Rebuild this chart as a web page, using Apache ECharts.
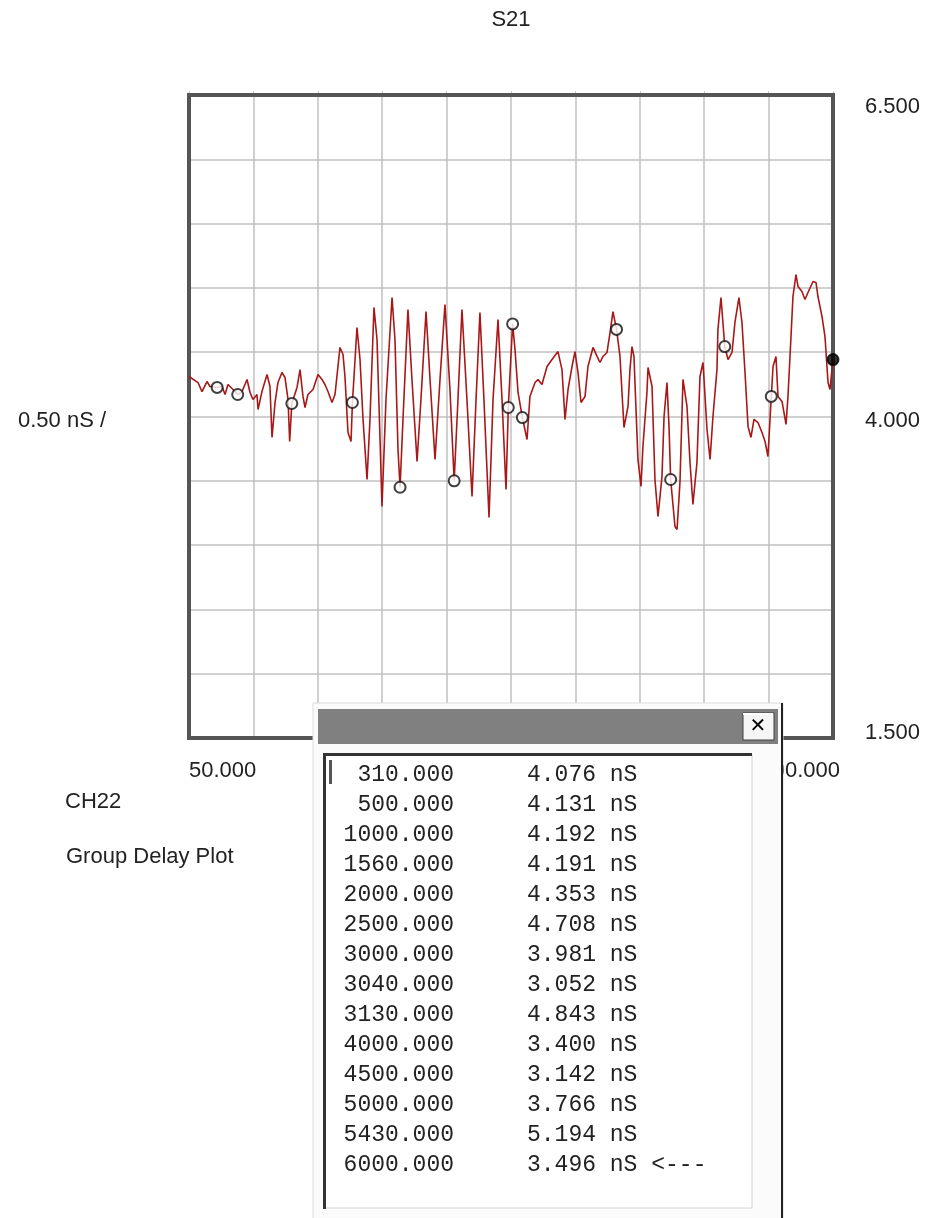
<!DOCTYPE html>
<html>
<head>
<meta charset="utf-8">
<script src="https://cdn.jsdelivr.net/npm/echarts@6/dist/echarts.min.js"></script>
<style>
  html, body { margin: 0; padding: 0; background: #fff; }
  #main { width: 926px; height: 1218px; }
</style>
</head>
<body>
<div id="main"></div>
<script>
// trace (MHz / nS)
var freqMHz = [50,133,170,216,244,310,355,383,410,457,500,540,586,614,641,678,688,724,771,798,817,845,872,909,937,965,980,1000,1048,1076,1103,1122,1149,1196,1242,1279,1306,1334,1371,1399,1445,1473,1491,1519,1547,1560,1602,1630,1658,1695,1722,1759,1787,1815,1833,1870,1926,1953,1981,2000,2027,2073,2110,2157,2193,2240,2277,2323,2369,2415,2461,2500,2535,2572,2618,2665,2702,2738,2775,2822,2859,2905,2942,2979,3000,3040,3062,3090,3130,3173,3200,3247,3274,3311,3358,3404,3459,3496,3524,3552,3589,3616,3644,3672,3709,3736,3783,3820,3847,3875,3912,3940,3967,4000,4032,4050,4069,4106,4124,4143,4161,4198,4226,4244,4281,4291,4328,4355,4383,4420,4439,4466,4485,4500,4540,4559,4586,4614,4651,4679,4706,4743,4771,4799,4836,4864,4891,4928,4937,4965,5000,5030,5067,5094,5131,5159,5187,5215,5242,5270,5307,5344,5372,5399,5430,5446,5473,5492,5529,5566,5584,5612,5630,5658,5677,5713,5741,5769,5815,5843,5861,5898,5926,5954,5972,6000];
var delayNs = [4.311,4.264,4.194,4.272,4.233,4.226,4.233,4.171,4.249,4.210,4.171,4.194,4.288,4.187,4.132,4.171,4.054,4.194,4.327,4.233,3.837,4.109,4.264,4.342,4.303,4.132,3.806,4.101,4.226,4.365,4.156,4.070,4.171,4.210,4.327,4.288,4.249,4.194,4.109,4.171,4.537,4.482,4.311,3.876,3.806,4.109,4.692,4.443,3.977,3.510,3.977,4.848,4.599,3.821,3.300,4.132,4.925,4.599,3.743,3.450,3.977,4.832,4.288,3.650,4.132,4.816,4.288,3.666,4.288,4.871,4.210,3.500,4.132,4.832,4.132,3.378,4.132,4.809,4.132,3.215,4.132,4.754,4.132,3.432,4.070,4.720,4.521,4.187,3.992,3.821,4.156,4.264,4.288,4.249,4.389,4.443,4.505,4.365,3.977,4.210,4.389,4.505,4.342,4.109,4.156,4.389,4.537,4.467,4.420,4.467,4.498,4.653,4.816,4.677,4.467,4.194,3.914,4.078,4.365,4.544,4.467,3.666,3.456,3.767,4.187,4.381,4.233,3.510,3.222,3.533,4.000,4.264,3.922,3.510,3.145,3.121,3.487,4.288,4.078,3.642,3.316,3.642,4.311,4.420,3.899,3.666,4.000,4.365,4.677,4.925,4.544,4.443,4.498,4.731,4.925,4.731,4.342,3.922,3.837,3.977,3.953,3.876,3.806,3.689,4.156,4.389,4.467,4.156,4.117,3.938,4.156,4.622,4.933,5.104,5.011,4.972,4.910,4.964,5.050,5.042,4.933,4.778,4.622,4.264,4.210,4.443];

// markers: frequency from the list, height from the plot
var markerFreq = [310,500,1000,1560,2000,2500,3000,3040,3130,4000,4500,5000,5430,6000];
var markerDelay = [4.226,4.171,4.101,4.109,3.450,3.500,4.070,4.720,3.992,4.677,3.510,4.544,4.156,4.443];
// readings printed in the marker window
var markerReading = [4.076,4.131,4.192,4.191,4.353,4.708,3.981,3.052,4.843,3.400,3.142,3.766,5.194,3.496];

var yLabels = { '6.5': '{t|6.500}', '4': '{m|4.000}', '1.5': '{b|1.500}' };

var Chart = echarts.init(document.getElementById('main'));

var traceData = [];
for (var i = 0; i < freqMHz.length; i++) {
  traceData.push([freqMHz[i], delayNs[i]]);
}
var markerData = [];
for (var k = 0; k < markerFreq.length; k++) {
  var last = k == markerFreq.length - 1;
  markerData.push({
    value: [markerFreq[k], markerDelay[k]],
    itemStyle: last ? { color: '#000', borderColor: '#000' } : undefined
  });
}

var labelFont = '22px Arial, "Liberation Sans", sans-serif';
var monoFont = '23px "Courier New", "Liberation Mono", monospace';

// marker window, drawn on top of everything
var win = [
  { type: 'rect', shape: { x: 313, y: 703, width: 470, height: 530 }, style: { fill: '#fbfbfb', stroke: '#dcdcdc', lineWidth: 1 } },
  { type: 'rect', shape: { x: 781, y: 703, width: 2, height: 530 }, style: { fill: '#222' } },
  { type: 'rect', shape: { x: 318, y: 709, width: 460, height: 35 }, style: { fill: '#808080' } },
  { type: 'rect', shape: { x: 743, y: 713, width: 31, height: 27 }, style: { fill: '#f6f6f6', stroke: '#404040', lineWidth: 1 } },
  { type: 'rect', shape: { x: 743, y: 713, width: 30, height: 2 }, style: { fill: '#ffffff' } },
  { type: 'text', style: { text: '✕', x: 758, y: 727, font: 'bold 20px "DejaVu Sans", Arial, sans-serif', fill: '#000', align: 'center', verticalAlign: 'middle', textAlign: 'center', textVerticalAlign: 'middle' } },
  { type: 'rect', shape: { x: 325, y: 754, width: 427, height: 454 }, style: { fill: '#fff', stroke: '#d4d4d4', lineWidth: 1 } },
  { type: 'rect', shape: { x: 323, y: 753, width: 429, height: 3 }, style: { fill: '#333' } },
  { type: 'rect', shape: { x: 323, y: 753, width: 3, height: 456 }, style: { fill: '#333' } },
  { type: 'rect', shape: { x: 329, y: 760, width: 3, height: 24 }, style: { fill: '#555' } }
];
for (var r = 0; r < markerFreq.length; r++) {
  var ry = 775 + r * 30;
  win.push({ type: 'text', style: { text: markerFreq[r].toFixed(3), x: 454, y: ry, font: monoFont, fill: '#222', align: 'right', verticalAlign: 'middle', textAlign: 'right', textVerticalAlign: 'middle' } });
  win.push({ type: 'text', style: { text: markerReading[r].toFixed(3) + ' nS' + (r == markerFreq.length - 1 ? ' <---' : ''), x: 527, y: ry, font: monoFont, fill: '#222', align: 'left', verticalAlign: 'middle', textAlign: 'left', textVerticalAlign: 'middle' } });
}
win.forEach(function (el) { el.z = 100; });

function txt(s, x, y, align) {
  return { type: 'text', style: { text: s, x: x, y: y, font: labelFont, fill: '#222', align: align, verticalAlign: 'middle', textAlign: align, textVerticalAlign: 'middle' } };
}

var option = {
  backgroundColor: '#fff',
  animation: false,
  grid: {
    left: 189, top: 95, width: 644, height: 643
  },
  xAxis: [
    {
      type: 'value', min: 50, max: 6000,
      axisLine: { show: false }, axisTick: { show: false }, splitLine: { show: false },
      axisLabel: {
        margin: 22, color: '#222', fontSize: 22, fontFamily: 'Arial, "Liberation Sans", sans-serif',
        showMinLabel: true, showMaxLabel: true,
        alignMinLabel: 'left', alignMaxLabel: 'right',
        formatter: function (v) {
          if (v == 50) return '50.000';
          if (v == 6000) return '{r|6000.000}';
          return '';
        },
        rich: { r: { fontSize: 22, padding: [0, -7, 0, 0] } }
      }
    },
    {
      // divisions only
      type: 'value', min: 0, max: 10, interval: 1, position: 'top',
      axisLine: { show: false },
      axisTick: { show: true, inside: false, length: 4, lineStyle: { color: '#c8c8c8', width: 1 } },
      axisLabel: { show: false },
      splitLine: { show: true, lineStyle: { color: '#c0c0c0', width: 1.5 } }
    }
  ],
  yAxis: {
    type: 'value', min: 1.5, max: 6.5, interval: 0.5, position: 'right',
    axisLine: { show: false }, axisTick: { show: false },
    splitLine: { show: true, lineStyle: { color: '#c0c0c0', width: 1.5 } },
    axisLabel: {
      margin: 32, color: '#222', fontSize: 22, fontFamily: 'Arial, "Liberation Sans", sans-serif',
      formatter: function (v) { return yLabels[String(v)] || ''; },
      rich: {
        t: { fontSize: 22, padding: [24, 0, 0, 0] },
        m: { fontSize: 22, padding: [8, 0, 0, 0] },
        b: { fontSize: 22, padding: [0, 0, 10, 0] }
      }
    }
  },
  series: [
    {
      type: 'line', data: traceData, showSymbol: false, z: 3,
      lineStyle: { color: '#a81818', width: 1.6 }
    },
    {
      type: 'scatter', data: markerData, symbol: 'circle', symbolSize: 11, z: 4,
      itemStyle: { color: '#fff', borderColor: '#111', borderWidth: 2 }
    }
  ],
  graphic: [
    // plot frame
    { type: 'rect', z: 1, shape: { x: 189, y: 95, width: 644, height: 643 }, style: { fill: 'transparent', stroke: '#555', lineWidth: 4 } },
    txt('S21', 511, 20, 'center'),
    txt('0.50 nS /', 18, 421, 'left'),
    txt('CH22', 65, 802, 'left'),
    txt('Group Delay Plot', 66, 857, 'left')
  ].concat(win)
};

Chart.setOption(option);
</script>
</body>
</html>
